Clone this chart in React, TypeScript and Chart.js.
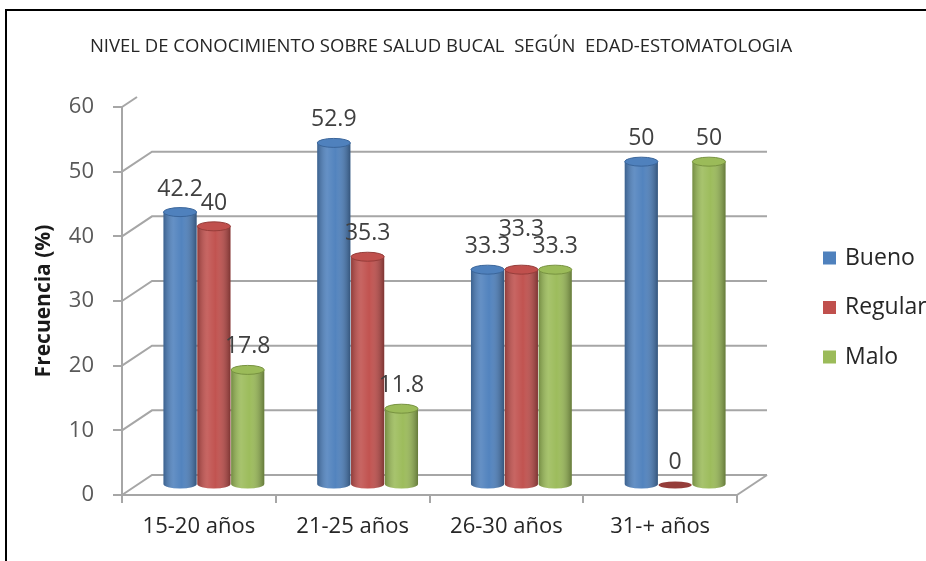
import React, { useEffect, useRef } from "react";
import { Chart, registerables } from "chart.js";

Chart.register(...registerables);

const categories = ["15-20 años", "21-25 años", "26-30 años", "31-+ años"];
const seriesNames = ["Bueno", "Regular", "Malo"];
const bueno = [42.2, 52.9, 33.3, 50];
const regular = [40, 35.3, 33.3, 0];
const malo = [17.8, 11.8, 33.3, 50];
const yMin = 0;
const yMax = 60;
const yStep = 10;
const chartTitle = "NIVEL DE CONOCIMIENTO SOBRE SALUD BUCAL  SEGÚN  EDAD-ESTOMATOLOGIA";
const yTitle = "Frecuencia (%)";

const COLORS = ["#4F81BD", "#C0504D", "#9BBB59"];
const DARK = ["#3A659A", "#953D3A", "#779240"];
const GRID = "#A6A6A6";
const FONT = "'Open Sans', 'Noto Sans', sans-serif";
const DX = 30;
const DY = -20;

const threeD = {
  id: "threeD",
  beforeDatasetsDraw(chart: any) {
    const { ctx, chartArea: a } = chart;
    const y = chart.scales.y;
    ctx.save();
    ctx.strokeStyle = GRID;
    ctx.lineWidth = 2;
    y.ticks.forEach((t: any) => {
      const fy = y.getPixelForValue(t.value);
      ctx.beginPath();
      ctx.moveTo(a.left, fy);
      if (t.value < y.max) {
        ctx.lineTo(a.left + DX, fy + DY);
        ctx.lineTo(a.right + DX, fy + DY);
      } else {
        ctx.lineTo(a.left + DX / 2, fy + DY / 2);
      }
      ctx.stroke();
    });
    ctx.beginPath();
    ctx.moveTo(a.right, a.bottom);
    ctx.lineTo(a.right + DX, a.bottom + DY);
    ctx.stroke();
    ctx.restore();
    ctx.save();
    ctx.translate(DX / 2, DY / 2);
  },
  afterDatasetsDraw(chart: any) {
    const { ctx } = chart;
    const labels: any[] = [];
    chart.data.datasets.forEach((ds: any, di: number) => {
      const meta = chart.getDatasetMeta(di);
      meta.data.forEach((el: any, i: number) => {
        const { x, y, base, width } = el.getProps(["x", "y", "base", "width"], true);
        const l = x - width / 2;
        const r = x + width / 2;
        const rx = width / 2;
        const ry = 4.5;
        const g = ctx.createLinearGradient(l, 0, r, 0);
        g.addColorStop(0, "rgba(0,0,0,0.25)");
        g.addColorStop(0.3, "rgba(255,255,255,0.12)");
        g.addColorStop(0.55, "rgba(255,255,255,0.02)");
        g.addColorStop(1, "rgba(0,0,0,0.35)");
        if (base - y > 0.5) {
          ctx.fillStyle = g;
          ctx.fillRect(l, y, width, base - y);
          ctx.beginPath();
          ctx.ellipse(x, base, rx, ry, 0, 0, Math.PI);
          ctx.closePath();
          ctx.fillStyle = COLORS[di];
          ctx.fill();
          ctx.fillStyle = g;
          ctx.fill();
          ctx.beginPath();
          ctx.ellipse(x, y, rx, ry, 0, 0, 2 * Math.PI);
          ctx.fillStyle = COLORS[di];
          ctx.fill();
          ctx.strokeStyle = DARK[di];
          ctx.lineWidth = 1;
          ctx.stroke();
        } else {
          ctx.beginPath();
          ctx.ellipse(x, base, rx, 3.5, 0, 0, 2 * Math.PI);
          ctx.fillStyle = DARK[di];
          ctx.fill();
        }
        labels.push({ i, x, y, text: String(ds.data[i]) });
      });
    });
    ctx.font = `23px ${FONT}`;
    ctx.fillStyle = "#404040";
    ctx.textAlign = "center";
    ctx.textBaseline = "middle";
    const placed: any[] = [];
    labels.forEach((lb) => {
      const w = ctx.measureText(lb.text).width;
      let cy = lb.y - 23;
      placed
        .filter((p) => p.i === lb.i)
        .forEach((p) => {
          if (Math.abs(p.x - lb.x) < (p.w + w) / 2 && Math.abs(p.cy - cy) < 12) {
            cy = p.cy - 17;
          }
        });
      placed.push({ i: lb.i, x: lb.x, w, cy });
      ctx.fillText(lb.text, lb.x, cy);
    });
    ctx.restore();
  },
  afterDraw(chart: any) {
    const { ctx } = chart;
    ctx.save();
    ctx.font = `18.5px ${FONT}`;
    ctx.fillStyle = "#262626";
    ctx.textAlign = "center";
    ctx.textBaseline = "middle";
    ctx.fillText(chartTitle, 441, 47);
    ctx.font = `23px ${FONT}`;
    ctx.textAlign = "left";
    chart.data.datasets.forEach((ds: any, di: number) => {
      const cy = 258 + di * 49.5;
      ctx.fillStyle = COLORS[di];
      ctx.fillRect(823, cy - 6.5, 13, 13);
      ctx.fillStyle = "#262626";
      ctx.fillText(ds.label, 845, cy);
    });
    ctx.restore();
  },
};

export default function App() {
  const ref = useRef<HTMLCanvasElement>(null);
  useEffect(() => {
    if (!ref.current) return;
    const series = [bueno, regular, malo];
    const chart = new Chart(ref.current, {
      type: "bar",
      data: {
        labels: categories,
        datasets: series.map((d, k) => ({
          label: seriesNames[k],
          data: d,
          backgroundColor: COLORS[k],
          borderWidth: 0,
          categoryPercentage: 0.66,
          barPercentage: 0.98,
          clip: false as any,
        })),
      },
      options: {
        responsive: false,
        animation: false,
        events: [],
        layout: { padding: { top: 107, right: 189, bottom: 0, left: 0 } },
        plugins: {
          legend: { display: false },
          title: { display: false },
          tooltip: { enabled: false },
        },
        scales: {
          x: {
            afterFit: (s: any) => {
              s.height = 66;
            },
            grid: {
              display: true,
              drawOnChartArea: false,
              drawTicks: true,
              tickLength: 8,
              color: GRID,
              lineWidth: 2,
              offset: true,
            },
            border: { display: true, color: GRID, width: 2 },
            ticks: {
              color: "#262626",
              font: { family: FONT, size: 22 },
              padding: 11,
              maxRotation: 0,
            },
          },
          y: {
            min: yMin,
            max: yMax,
            afterFit: (s: any) => {
              s.width = 122;
            },
            grid: {
              display: true,
              drawOnChartArea: false,
              drawTicks: true,
              tickLength: 9,
              color: GRID,
              lineWidth: 2,
            },
            border: { display: true, color: GRID, width: 2 },
            ticks: {
              stepSize: yStep,
              color: "#595959",
              font: { family: FONT, size: 22 },
              padding: 19,
            },
            title: {
              display: true,
              text: yTitle,
              color: "#1a1a1a",
              font: { family: FONT, size: 21, weight: "bold" },
              padding: { top: 31, bottom: 0 },
            },
          },
        },
      },
      plugins: [threeD],
    });
    return () => chart.destroy();
  }, []);

  return (
    <div
      style={{
        position: "absolute",
        left: 0,
        top: 0,
        width: 926,
        height: 561,
        overflow: "hidden",
        background: "#fff",
      }}
    >
      <div
        style={{
          position: "absolute",
          left: 5,
          top: 9,
          width: 960,
          height: 600,
          borderTop: "2px solid #000",
          borderLeft: "2px solid #000",
        }}
      />
      <canvas
        ref={ref}
        width={926}
        height={561}
        style={{ position: "absolute", left: 0, top: 0, width: 926, height: 561 }}
      />
    </div>
  );
}
